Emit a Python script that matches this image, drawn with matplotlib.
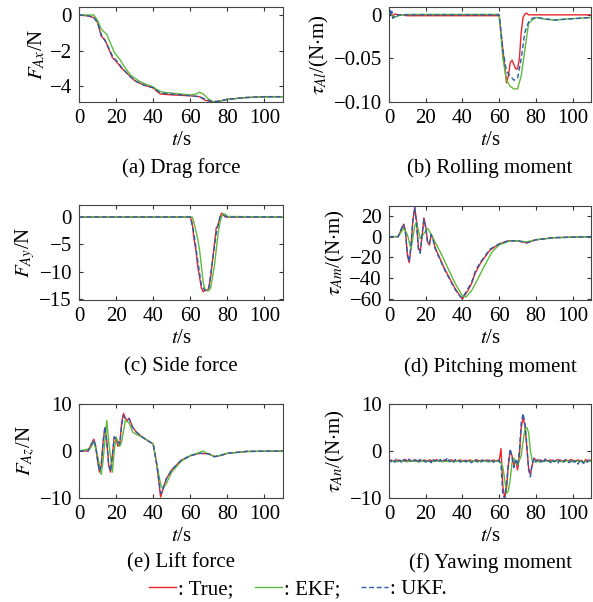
import numpy as np
import matplotlib
matplotlib.use("Agg")
import matplotlib.pyplot as plt
from matplotlib.lines import Line2D

plt.rcParams['font.family'] = ['Liberation Serif', 'DejaVu Serif']
plt.rcParams['mathtext.fontset'] = 'stix'
plt.rcParams['font.size'] = 15

# ---------------- data ----------------
# (a) drag force
ta_true = [0, 5, 8, 10, 11, 12, 14, 16, 18, 20, 23, 26, 30, 35, 40, 42, 44, 50, 60, 65, 68, 72, 76, 80, 90, 100, 110]
fa_true = [0, -0.05, -0.15, -0.4, -0.8, -1.2, -1.4, -1.9, -2.4, -2.6, -3.0, -3.3, -3.7, -3.95, -4.1, -4.3, -4.45, -4.5, -4.55, -4.6, -4.8, -4.9, -4.85, -4.75, -4.65, -4.6, -4.6]
ta_ekf = [0, 8, 10, 12, 15, 17, 19, 22, 25, 28, 32, 36, 40, 42, 45, 50, 55, 60, 63, 65, 67, 70, 73, 76, 80, 90, 110]
fa_ekf = [0, 0, -0.3, -0.8, -1.1, -1.6, -2.1, -2.5, -3.0, -3.4, -3.7, -3.9, -4.05, -4.2, -4.35, -4.4, -4.45, -4.5, -4.45, -4.35, -4.45, -4.75, -4.92, -4.85, -4.75, -4.65, -4.6]
ta_ukf = [0, 5, 8, 10, 12, 14, 16, 18, 20, 23, 26, 30, 35, 40, 42, 44, 50, 60, 65, 68, 72, 76, 80, 90, 100, 110]
fa_ukf = [0, -0.05, -0.15, -0.45, -1.1, -1.45, -1.85, -2.3, -2.55, -2.95, -3.3, -3.7, -3.95, -4.1, -4.25, -4.4, -4.45, -4.55, -4.6, -4.75, -4.88, -4.85, -4.75, -4.65, -4.6, -4.6]

# (b) rolling moment
tb_true = [0, 0.5, 1, 2, 3, 5, 10, 60, 62, 64, 65, 66, 67, 68, 69, 70, 71, 72, 73, 74, 75, 76, 110]
mb_true = [0, 0.005, 0.002, -0.002, 0.001, 0, -0.001, -0.001, -0.04, -0.078, -0.07, -0.055, -0.052, -0.057, -0.062, -0.062, -0.05, -0.02, -0.003, 0.001, 0.002, 0, 0]
tb_ekf = [0, 1, 2, 3, 5, 10, 60, 62, 64, 66, 68, 70, 72, 74, 76, 78, 80, 85, 90, 95, 110]
mb_ekf = [0, 0.003, -0.002, -0.003, -0.001, 0.0005, 0.0005, -0.05, -0.075, -0.082, -0.085, -0.085, -0.07, -0.04, -0.01, -0.006, -0.003, -0.005, -0.006, -0.005, -0.003]
tb_ukf = [0, 0.5, 1, 1.5, 2, 3, 4, 5, 10, 60, 62, 64, 66, 68, 70, 72, 74, 76, 78, 80, 90, 110]
mb_ukf = [0, 0.007, -0.001, 0.004, -0.004, -0.002, -0.003, 0, 0, 0, -0.04, -0.065, -0.07, -0.075, -0.073, -0.05, -0.02, -0.008, -0.004, -0.003, -0.006, -0.003]

# (c) side force
tc_true = [0, 60, 61, 62, 63, 64, 65, 66, 67, 68, 69, 70, 71, 72, 73, 74, 75, 76, 77, 78, 79, 110]
fc_true = [0, 0, -1, -4, -6, -9, -11, -13, -13.7, -13.3, -13.5, -13, -11, -8, -5, -2, -1.5, 0, 0.7, 0.3, 0, 0]
tc_ekf = [0, 61, 62, 63, 64, 65, 66, 67, 68, 69, 70, 71, 72, 73, 74, 75, 76, 77, 78, 79, 80, 110]
fc_ekf = [0, 0, -1, -2.5, -4, -6, -9, -12, -13.3, -13.5, -13.5, -13, -11, -9, -6, -3, -1, 0.2, 0.6, 0.5, 0.1, 0]
tc_ukf = [0, 60, 62, 64, 66, 68, 70, 72, 74, 76, 78, 80, 110]
fc_ukf = [0, 0, -3, -8, -12.5, -13.5, -13, -8, -3, 0, 0.3, 0, 0]

# (d) pitching moment
td_true = [0, 5, 7, 8, 9, 10, 11, 12, 13, 14, 15, 16, 17, 18, 19, 20, 21, 22, 23, 24, 25, 27, 30, 33, 36, 39, 40, 41, 43, 45, 47, 50, 55, 60, 65, 70, 75, 80, 90, 110]
md_true = [0, 0, 8, 12, 5, -18, -25, -10, 15, 28, 15, -10, -15, 0, 18, 10, -5, -8, 2, -2, -10, -18, -30, -40, -50, -58, -60, -57, -52, -45, -35, -25, -13, -7, -4, -4, -6, -3, -1, 0]
td_ekf = [0, 5, 8, 10, 12, 14, 15, 17, 19, 21, 23, 25, 28, 32, 36, 40, 42, 45, 48, 52, 56, 60, 66, 70, 75, 80, 90, 110]
md_ekf = [0, 0, 8, 2, -12, 10, 14, -2, 3, 8, 2, -5, -15, -30, -45, -57, -58, -52, -42, -28, -15, -8, -4, -4, -5, -3, -1, 0]
td_ukf = [0, 5, 7, 8, 9, 10, 11, 12, 13, 14, 15, 16, 17, 18, 19, 20, 21, 22, 23, 24, 25, 27, 30, 33, 36, 39, 40, 41, 43, 45, 47, 50, 55, 60, 65, 70, 75, 80, 90, 110]
md_ukf = [0, 0, 9, 12, 3, -16, -24, -8, 17, 28, 12, -12, -16, 2, 17, 8, -6, -7, 2, -3, -11, -19, -31, -41, -51, -58, -59, -56, -50, -44, -33, -24, -12, -7, -4, -4, -6, -3, -1, 0]

# (e) lift force
te_true = [0, 5, 6, 8, 9, 10, 11, 12, 13, 14, 15, 16, 17, 18, 19, 20, 21, 22, 23, 24, 25, 26, 27, 29, 31, 34, 37, 40, 42, 44, 45, 47, 50, 55, 60, 65, 70, 73, 76, 80, 90, 110]
fe_true = [0, 0, 1, 2.5, 1, -2, -4.5, -3, 2, 5, 2, -3, -4.5, -1, 3, 2.5, 1, 1.5, 6, 8, 7, 6.5, 7, 5, 4, 3, 2.2, 1.5, -3, -9.8, -8.5, -6, -4, -2, -1, -0.5, -0.6, -1.2, -1, -0.5, -0.1, 0]
te_ekf = [0, 6, 8, 10, 12, 13, 15, 16, 18, 19, 20, 22, 23, 25, 27, 29, 31, 35, 40, 42, 44, 45, 47, 50, 55, 60, 65, 67, 69, 73, 76, 80, 90, 110]
fe_ekf = [0, 0.5, 2, -1, -5, -2, 6.5, 2, -4.5, 0, 3, 1, 2, 6.5, 6, 4, 3.5, 2.8, 1.5, -3, -7, -8, -7, -4.5, -2.2, -1, -0.3, 0, -0.5, -1.2, -0.9, -0.5, -0.1, 0]
te_ukf = [0, 5, 6, 8, 9, 10, 11, 12, 13, 14, 15, 16, 17, 18, 19, 20, 22, 23, 24, 25, 27, 29, 31, 34, 37, 40, 42, 44, 45, 47, 50, 55, 60, 65, 70, 73, 76, 80, 90, 110]
fe_ukf = [0, 0, 1, 2.3, 1, -1.8, -4.3, -3, 2, 5.2, 2, -3, -4.3, -1, 3, 2.5, 1.5, 5.5, 7.5, 6.8, 6.8, 5, 4, 3, 2.2, 1.5, -3, -9, -8.5, -6, -4, -2, -1, -0.5, -0.6, -1.2, -1, -0.5, -0.1, 0]

# (f) yawing moment, sampled every second
tf = np.arange(0, 111)
mf_true = [-2.0, -1.9, -2.1, -2.0, -2.2, -1.9, -2.0, -2.1, -2.0, -1.8,
           -2.1, -2.0, -2.2, -2.0, -1.9, -2.1, -2.0, -2.0, -2.2, -1.9,
           -2.0, -2.1, -1.9, -2.0, -2.1, -2.0, -1.8, -2.1, -2.0, -2.2,
           -1.9, -2.0, -2.1, -2.0, -1.9, -2.1, -2.0, -2.2, -2.0, -1.9,
           -2.1, -2.0, -2.0, -2.1, -1.9, -2.0, -2.2, -2.0, -1.9, -2.1,
           -2.0, -2.0, -2.1, -1.9, -2.0, -2.2, -2.0, -1.9, -2.1, -2.0,
           -2.0, 0.5, -7.5, -10.0, -8.0, -3.0, 0.0, -1.0, -3.0, -2.0,
           -4.0, -1.0, 5.0, 7.0, 5.5, 1.0, -3.5, -5.0, -3.0, -1.5, -2.0,
           -2.1, -1.9, -2.0, -2.2, -1.8, -2.0, -2.1, -1.9, -2.0, -2.2,
           -2.0, -1.8, -2.1, -2.0, -2.2, -1.9, -2.0, -2.1, -1.8, -2.0,
           -2.2, -2.0, -1.9, -2.1, -2.0, -2.6, -1.8, -2.0, -2.1, -1.9]
mf_ekf = [-2.2, -2.2, -2.1, -2.2, -2.3, -2.2, -2.2, -2.1, -2.2, -2.2,
          -2.3, -2.2, -2.2, -2.1, -2.2, -2.2, -2.3, -2.2, -2.2, -2.2,
          -2.1, -2.2, -2.2, -2.3, -2.2, -2.2, -2.1, -2.2, -2.2, -2.3,
          -2.2, -2.2, -2.2, -2.1, -2.2, -2.3, -2.2, -2.2, -2.2, -2.1,
          -2.2, -2.2, -2.3, -2.2, -2.2, -2.1, -2.2, -2.2, -2.3, -2.2,
          -2.2, -2.2, -2.1, -2.2, -2.2, -2.3, -2.2, -2.2, -2.1, -2.2,
          -2.2, -2.5, -3.5, -6.0, -9.0, -8.5, -6.0, -2.5, -1.5, -2.5,
          -3.0, -2.0, -1.0, 2.0, 4.5, 5.0, 4.0, 0.0, -2.0, -2.3, -2.3,
          -2.2, -2.2, -2.3, -2.2, -2.1, -2.2, -2.2, -2.3, -2.2, -2.2,
          -2.1, -2.2, -2.2, -2.3, -2.2, -2.2, -2.1, -2.2, -2.2, -2.3,
          -2.2, -2.2, -2.1, -2.2, -2.2, -2.3, -2.2, -2.2, -2.1, -2.2]
mf_ukf = [-1.8, -2.3, -1.9, -2.4, -1.7, -2.2, -2.0, -2.5, -1.8, -2.1,
          -2.3, -1.7, -2.2, -2.4, -1.9, -2.0, -2.6, -1.8, -2.2, -2.0,
          -2.4, -1.9, -2.1, -2.5, -1.7, -2.2, -2.0, -2.3, -1.8, -2.4,
          -2.0, -1.9, -1.4, -2.3, -2.1, -2.5, -1.8, -2.2, -2.0, -2.4,
          -1.9, -2.1, -2.3, -1.8, -2.2, -2.5, -2.0, -1.8, -2.3, -2.1,
          -2.4, -1.9, -2.2, -2.0, -2.3, -1.7, -2.1, -2.4, -2.0, -2.2,
          -2.0, -3.0, -9.5, -10.0, -7.0, -2.5, 0.5, -1.5, -3.5, -2.0,
          -3.0, 0.0, 6.0, 8.0, 6.0, 1.5, -4.0, -5.5, -2.5, -1.5, -2.3,
          -1.8, -2.4, -2.0, -2.6, -1.7, -2.2, -2.0, -2.5, -1.8, -2.3,
          -2.1, -2.6, -1.9, -2.2, -2.4, -1.8, -2.0, -2.5, -2.2, -1.7,
          -2.4, -2.1, -2.8, -1.9, -2.3, -2.6, -2.0, -2.4, -1.8, -2.2]

xticks = [0, 20, 40, 60, 80, 100]
captions = ['(a) Drag force', '(b) Rolling moment', '(c) Side force',
            '(d) Pitching moment', '(e) Lift force', '(f) Yawing moment']
ylabels = [r'$F_{Ax}$/N', r'$\tau_{Al}$/(N$\cdot$m)', r'$F_{Ay}$/N',
           r'$\tau_{Am}$/(N$\cdot$m)', r'$F_{Az}$/N', r'$\tau_{An}$/(N$\cdot$m)']
yticks = [[0, -2, -4], [0, -0.05, -0.10], [0, -5, -10, -15],
          [20, 0, -20, -40, -60], [10, 0, -10], [10, 0, -10]]
yticklabels = [['0', '\u22122', '\u22124'], ['0', '\u22120.05', '\u22120.10'],
               ['0', '\u22125', '\u221210', '\u221215'],
               ['20', '0', '\u221220', '\u221240', '\u221260'],
               ['10', '0', '\u221210'], ['10', '0', '\u221210']]
ylims = [(-4.9, 0.45), (-0.0965, 0.009), (-15.2, 2.2), (-61, 29.5), (-10, 10), (-10, 10)]

series = [
    (ta_true, fa_true, ta_ekf, fa_ekf, ta_ukf, fa_ukf),
    (tb_true, mb_true, tb_ekf, mb_ekf, tb_ukf, mb_ukf),
    (tc_true, fc_true, tc_ekf, fc_ekf, tc_ukf, fc_ukf),
    (td_true, md_true, td_ekf, md_ekf, td_ukf, md_ukf),
    (te_true, fe_true, te_ekf, fe_ekf, te_ukf, fe_ukf),
    (tf, mf_true, tf, mf_ekf, tf, mf_ukf),
]

c_true = '#e8262b'
c_ekf = '#5dbb3c'
c_ukf = '#2b5cab'

W, H = 593, 602
fig = plt.figure(figsize=(W / 100, H / 100), dpi=100)

# axes boxes in pixels: left, right, top, bottom
boxes = [(79, 283, 7, 102), (389, 591, 7, 102),
         (79, 283, 205, 300), (389, 591, 206, 300),
         (79, 283, 404, 498), (389, 591, 404, 498)]
cap_y = [168, 168, 367, 367, 563, 563]

for i, (l, r, t, b) in enumerate(boxes):
    ax = fig.add_axes([l / W, 1 - b / H, (r - l) / W, (b - t) / H])
    t1, y1, t2, y2, t3, y3 = series[i]
    ax.plot(t1, y1, color=c_true, lw=1.0)
    ax.plot(t2, y2, color=c_ekf, lw=1.0)
    ax.plot(t3, y3, color=c_ukf, lw=1.0, ls=(0, (3.5, 2)))
    ax.set_xlim(0, 110)
    ax.set_ylim(*ylims[i])
    ax.set_xticks(xticks)
    ax.set_yticks(yticks[i])
    ax.set_yticklabels(yticklabels[i])
    ax.tick_params(direction='in', top=True, right=True, length=3, width=0.8,
                   labelsize=15, color='#333333')
    ax.tick_params(axis='x', pad=5)
    ax.tick_params(axis='y', pad=5)
    for s in ax.spines.values():
        s.set_color('#444444')
        s.set_linewidth(0.8)
    ax.set_xlabel('$t$/s', fontsize=15, labelpad=2)
    ax.set_ylabel(ylabels[i], fontsize=15, labelpad=2)
    fig.text((l + r) / 2 / W, 1 - cap_y[i] / H, captions[i], ha='center', va='center', fontsize=15)

handles = [Line2D([], [], color=c_true, lw=1.0),
           Line2D([], [], color=c_ekf, lw=1.0),
           Line2D([], [], color=c_ukf, lw=1.0, ls=(0, (3.5, 2)))]
fig.legend(handles, [': True;', ': EKF;', ': UKF.'], loc='center',
           bbox_to_anchor=(298 / W, 1 - 589 / H), ncol=3, frameon=False,
           handlelength=1.3, handletextpad=0.1, columnspacing=1.0, fontsize=15,
           borderpad=0)

fig.savefig('out.png', dpi=100)
